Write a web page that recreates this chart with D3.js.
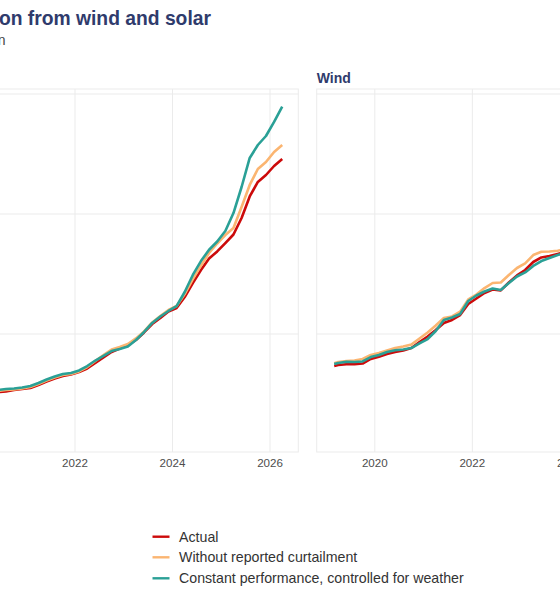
<!DOCTYPE html>
<html>
<head>
<meta charset="utf-8">
<script src="https://cdn.jsdelivr.net/npm/d3@7"></script>
<style>
  body { margin: 0; background: #ffffff; }
  svg { display: block; font-family: "Liberation Sans", Arial, sans-serif; }
</style>
</head>
<body>
<svg id="chart" width="560" height="600"></svg>
<script>
// ---------------- DATA ----------------
const months = [
  "2019-03","2019-04","2019-06","2019-08","2019-10","2019-12",
  "2020-02","2020-04","2020-06","2020-08","2020-10","2020-12",
  "2021-02","2021-04","2021-06","2021-08","2021-10","2021-12",
  "2022-02","2022-04","2022-06","2022-08","2022-10","2022-12",
  "2023-02","2023-04","2023-06","2023-08","2023-10","2023-12",
  "2024-02","2024-04","2024-06","2024-08","2024-10","2024-12",
  "2025-02","2025-04","2025-06","2025-08","2025-10","2025-12",
  "2026-02","2026-04"
];
const panels = ["Solar", "Wind"];
const seriesNames = ["Actual", "Without reported curtailment", "Constant performance, controlled for weather"];
const seriesColors = ["#cc0a0a", "#fbb571", "#2aa096"];

const solarActual = [43.6,44.2,45,45.8,46.7,47.5, 48.3,50,51.7,52.1,53.3,54.2, 55,57.5,60.4,62.9,65,66.3,
  68.3,71.3,75.8,80.4,85,87.9, 90.8,95,101.3,108.3,113.3,118.8, 121.7,130.8,142.5,153.3,162.9,168.8,
  175.8,182.9,196.7,214.6,226.7,232.5, 240,245.8];
const solarNoCurtail = [44.5,45,45.8,46.7,47.5,48.3, 49.2,50.8,52.5,53.3,53.8,54.6, 55.8,58.3,61.3,63.8,65.8,66.7,
  68.8,72.5,77.5,82.5,87.1,89.2, 91.7,96.3,102.1,109.6,115,120, 123.3,133.3,145.8,157,167.5,175.4,
  182.5,188.3,205.8,224.2,237.5,243.3, 251.7,257.5];
const solarConstant = [45.3,45.8,46.7,47.5,48.3,49.2, 50,51.7,53.3,54.2,54.6,55.4, 56.7,59.2,62.1,64.6,66.7,67.5,
  69.6,73.3,77.9,81.7,85.8,87.5, 89.6,95,101.7,109.2,114.6,119.2, 123.3,135,149.2,160.8,170.2,177.1,
  185.8,200.8,222.5,246.7,257.5,265, 276.7,289.4];

const windActual = [73.3,74.2,74.8,74.8,75.4,79.2, 81.1,83.3,85,86.3,88.3,93.3, 97.9,103.3,109.2,111.7,115.8,125,
  129.6,134.2,137.1,136.3,142.9,148.8, 153.3,160,163.8,165,166.7,168.3, 170,171.7,173.3,175,176.7,178.3,
  180,181.7,183.3,185,185.8,186.7, 187.5,188.3];
const windNoCurtail = [75.6,76.7,77.5,77.9,79.2,82.5, 84.2,86.3,88.3,89.6,91.3,96.3, 101.3,107.1,113.3,114.6,118.6,128.8,
  132.9,138.3,142.5,142.9,149.2,155, 158.8,165.8,168.6,168.8,169.4,170.8, 172.5,174.2,175.8,177.5,179.2,180.8,
  182.5,184.2,185.8,187.5,188.3,189.2, 190,190.8];
const windConstant = [75,75.8,76.9,76.7,77.1,80.8, 82.5,85,86.4,87.1,88.3,92.1, 95.8,102.5,111.7,113.8,116.7,127.5,
  132.1,135.4,137.9,136.7,142.5,147.9, 151.3,156.7,160.8,163.3,165.8,167.5, 169.2,170.8,172.5,174.2,175.8,177.5,
  179.2,180.8,182.5,184.2,185,185.8, 186.7,187.5];

const xTickYears = [2020, 2022, 2024, 2026];
const yTicks = [0, 100, 200, 300];

// ---------------- LAYOUT ----------------
const W = 560;
const svg = d3.select("#chart");
const titleColor = "#2f3b6c";
const panelTop = 89, panelBottom = 452;
const panelX = [[-80.6, 298.3], [316.7, 695.6]];
const toYear = s => { const [y, m] = s.split("-").map(Number); return y + (m - 1) / 12; };

const yScale = d3.scaleLinear().domain([0, 300]).range([454, 94]);

const panelData = {
  Solar: [solarActual, solarNoCurtail, solarConstant],
  Wind: [windActual, windNoCurtail, windConstant]
};

// Title and subtitle (the picture is a crop of a wider chart)
svg.append("text").attr("x", 211).attr("y", 25).attr("text-anchor", "end")
  .attr("font-size", 19.3).attr("font-weight", "bold").attr("fill", titleColor)
  .text("Generation from wind and solar");
svg.append("text").attr("x", 5.5).attr("y", 44.5).attr("text-anchor", "end")
  .attr("font-size", 14).attr("fill", "#444")
  .text("Rolling generation");

panels.forEach((name, pi) => {
  const [x0, x1] = panelX[pi];
  const xScale = d3.scaleLinear().domain([2018.808, 2026.58]).range([x0, x1]);
  const g = svg.append("g");

  if (x0 >= 0) {
    g.append("text").attr("x", x0).attr("y", 82.5)
      .attr("font-size", 14).attr("font-weight", "bold").attr("fill", titleColor).text(name);
  }

  g.append("rect").attr("x", x0).attr("y", panelTop)
    .attr("width", x1 - x0).attr("height", panelBottom - panelTop)
    .attr("fill", "none").attr("stroke", "#ebebeb").attr("stroke-width", 1);

  g.selectAll(".hg").data(yTicks.filter(v => yScale(v) > panelTop && yScale(v) < panelBottom))
    .join("line").attr("x1", x0).attr("x2", x1)
    .attr("y1", d => yScale(d)).attr("y2", d => yScale(d))
    .attr("stroke", "#ebebeb").attr("stroke-width", 1);
  g.selectAll(".vg").data(xTickYears).join("line")
    .attr("x1", d => xScale(d)).attr("x2", d => xScale(d))
    .attr("y1", panelTop).attr("y2", panelBottom)
    .attr("stroke", "#ebebeb").attr("stroke-width", 1);

  g.selectAll(".xl").data(xTickYears.filter(d => xScale(d) > -10 && xScale(d) < W + 10)).join("text")
    .attr("x", d => xScale(d)).attr("y", 467)
    .attr("text-anchor", "middle").attr("font-size", 11.6).attr("fill", "#4d4d4d")
    .text(d => d);

  const line = d3.line()
    .x((d, i) => xScale(toYear(months[i])))
    .y(d => yScale(d));
  panelData[name].forEach((vals, si) => {
    g.append("path").datum(vals)
      .attr("d", line)
      .attr("fill", "none")
      .attr("stroke", seriesColors[si])
      .attr("stroke-width", 2.6)
      .attr("stroke-linejoin", "round")
      .attr("stroke-linecap", "butt");
  });
});

// legend
const legendY = [536.7, 557.3, 578.3];
const lg = svg.append("g");
seriesNames.forEach((s, i) => {
  lg.append("line").attr("x1", 152.5).attr("x2", 169.5)
    .attr("y1", legendY[i]).attr("y2", legendY[i])
    .attr("stroke", seriesColors[i]).attr("stroke-width", 2.4);
  lg.append("text").attr("x", 179).attr("y", legendY[i]).attr("dy", "0.35em")
    .attr("font-size", 14.2).attr("fill", "#333").text(s);
});
</script>
</body>
</html>
